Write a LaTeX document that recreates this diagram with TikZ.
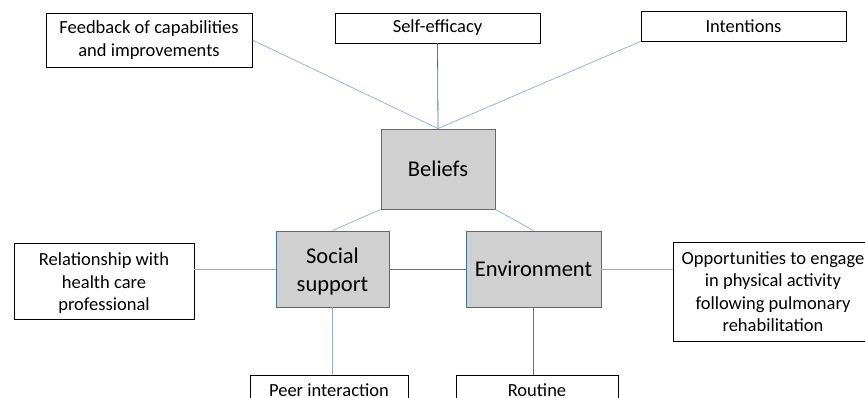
\documentclass[tikz,border=0pt]{standalone}
\usepackage{fontspec}
\setmainfont{Carlito}
\definecolor{lightln}{HTML}{8FAADC}
\definecolor{darkln}{HTML}{4472C4}
\definecolor{grayfill}{HTML}{D0D0D0}
\definecolor{grayedge}{HTML}{41719C}
\newcommand\topstrut[1]{\rule{0pt}{#1}}
\begin{document}
\begin{tikzpicture}[x=1pt,y=-1pt,
  wbox/.style={draw=black,fill=white,line width=0.8pt,inner sep=0pt,align=center,
    font=\fontsize{18.5}{22.5}\selectfont},
  gbox/.style={draw=grayedge,fill=grayfill,line width=0.9pt,inner sep=0pt,align=center,
    font=\fontsize{22.5}{28}\selectfont},
  lline/.style={draw=lightln,line width=0.7pt},
  dline/.style={draw=darkln,line width=0.8pt}]
\useasboundingbox (0,0) rectangle (865,398);
\clip (0,0) rectangle (865,398);
\fill[white] (0,0) rectangle (865,398);
\node[wbox,minimum width=206pt,minimum height=54pt] (fb) at (149,40) {Feedback of capabilities\\and improvements};
\node[wbox,minimum width=205pt,minimum height=30pt] (se) at (437.5,28) {Self-efficacy};
\node[wbox,minimum width=205pt,minimum height=30pt] (in) at (743.5,26) {Intentions};
\node[gbox,minimum width=114pt,minimum height=80pt] (bel) at (438,169) {Beliefs};
\node[gbox,minimum width=113pt,minimum height=76pt] (ss) at (332.5,269) {\topstrut{20pt}Social\\support};
\node[gbox,minimum width=135pt,minimum height=76pt] (env) at (533.5,269) {Environment};
\node[wbox,minimum width=180pt,minimum height=76pt] (rel) at (104,281) {\topstrut{17.5pt}Relationship with\\health care\\professional};
\node[wbox,minimum width=200pt,minimum height=99pt] (opp) at (773,291.5) {Opportunities to engage\\in physical activity\\following pulmonary\\rehabilitation};
\node[wbox,minimum width=158pt,minimum height=30pt] (peer) at (329,390) {Peer interaction};
\node[wbox,minimum width=162pt,minimum height=30pt] (rout) at (537,390) {Routine};
\draw[lline] (fb.east) -- (bel.north);
\draw[dline] (se.south) -- (bel.north);
\draw[lline] (in.south west) -- (bel.north);
\draw[lline] (bel.south west) -- (ss.north);
\draw[lline] (bel.south east) -- (env.north);
\draw[dline] (ss.east) -- (env.west);
\draw[lline] (ss.west -| rel.east) -- (ss.west);
\draw[lline] (env.east) -- (env.east -| opp.west);
\draw[lline] (ss.south) -- (ss.south |- peer.north);
\draw[dline] (env.south) -- (env.south |- rout.north);
\end{tikzpicture}
\end{document}
